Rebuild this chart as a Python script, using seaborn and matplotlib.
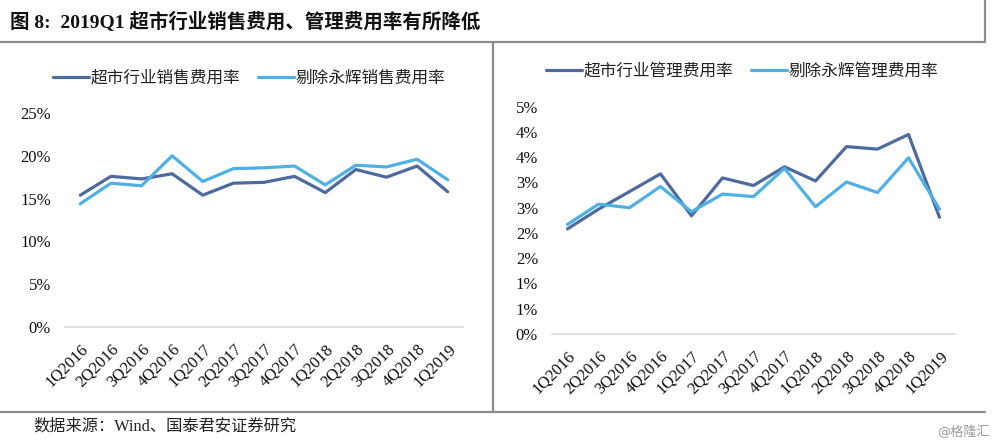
import pandas as pd
import matplotlib
matplotlib.use('Agg')
import matplotlib.pyplot as plt
import seaborn as sns
from matplotlib.lines import Line2D

sns.set_style('white')
plt.rcParams['font.family'] = ['Liberation Serif', 'Noto Sans CJK SC', 'DejaVu Sans']

quarters = ['1Q2016', '2Q2016', '3Q2016', '4Q2016', '1Q2017', '2Q2017', '3Q2017',
            '4Q2017', '1Q2018', '2Q2018', '3Q2018', '4Q2018', '1Q2019']

# Left panel: selling expense ratio (%)
sell_industry = [15.4, 17.6, 17.3, 17.9, 15.4, 16.8, 16.9, 17.6, 15.7, 18.4, 17.5, 18.8, 15.8]
sell_ex_yh = [14.4, 16.8, 16.5, 20.0, 17.0, 18.5, 18.6, 18.8, 16.6, 18.9, 18.7, 19.6, 17.2]

# Right panel: admin expense ratio (%)
admin_industry = [2.08, 2.47, 2.82, 3.17, 2.34, 3.09, 2.94, 3.31, 3.03, 3.71, 3.66, 3.95, 2.31]
admin_ex_yh = [2.17, 2.57, 2.50, 2.92, 2.42, 2.77, 2.72, 3.28, 2.52, 3.01, 2.80, 3.49, 2.47]

left_names = ['超市行业销售费用率', '剔除永辉销售费用率']
right_names = ['超市行业管理费用率', '剔除永辉管理费用率']

left_ticks = [0, 5, 10, 15, 20, 25]
left_ticklabels = ['0%', '5%', '10%', '15%', '20%', '25%']
right_ticks = [0, 0.5, 1.0, 1.5, 2.0, 2.5, 3.0, 3.5, 4.0, 4.5]
right_ticklabels = ['0%', '1%', '1%', '2%', '2%', '3%', '3%', '4%', '4%', '5%']

colors = ['#4d6b9e', '#4fb0e6']
frame_col = '#8c8c8c'
cjk = ['Noto Sans CJK SC']

fig = plt.figure(figsize=(10, 4.44), dpi=100)


def px_axes(x0, x1, ytop, ybot):
    return fig.add_axes([x0 / 1000, (444 - ybot) / 444, (x1 - x0) / 1000, (ybot - ytop) / 444])


def draw_panel(ax, a, b, names, ticks, ticklabels, ymax):
    df = pd.DataFrame({'quarter': quarters * 2, 'value': a + b,
                       'series': [names[0]] * len(a) + [names[1]] * len(b)})
    sns.lineplot(data=df, x='quarter', y='value', hue='series', palette=colors,
                 linewidth=2.3, ax=ax, legend=False, sort=False)
    for ln in ax.lines:
        ln.set_solid_joinstyle('round')
        ln.set_solid_capstyle('round')
    ax.set_xlim(-0.5, len(quarters) - 0.5)
    ax.set_ylim(0, ymax)
    ax.set_yticks(ticks)
    ax.set_yticklabels(ticklabels)
    ax.set_xticks(range(len(quarters)))
    ax.set_xticklabels(quarters, rotation=45, ha='right', rotation_mode='anchor')
    ax.tick_params(axis='both', length=0, labelsize=12, colors='#111111')
    ax.tick_params(axis='x', pad=10)
    ax.tick_params(axis='y', pad=10)
    for s in ['top', 'right', 'left']:
        ax.spines[s].set_visible(False)
    ax.spines['bottom'].set_color('#d9d9d9')
    ax.spines['bottom'].set_linewidth(1.2)
    ax.set_xlabel('')
    ax.set_ylabel('')
    ax.set_facecolor('none')


ax1 = px_axes(65, 463, 113, 327)
draw_panel(ax1, sell_industry, sell_ex_yh, left_names, left_ticks, left_ticklabels, 25)

ax2 = px_axes(552, 955, 106.7, 334)
draw_panel(ax2, admin_industry, admin_ex_yh, right_names, right_ticks, right_ticklabels, 4.5)

# legends above each panel
for ax, names, cx, cy in [(ax1, left_names, 249, 78), (ax2, right_names, 742, 71)]:
    handles = [Line2D([0], [0], color=colors[i], lw=2.3, label=names[i]) for i in range(2)]
    fig.legend(handles=handles, loc='center', bbox_to_anchor=(cx / 1000, (444 - cy) / 444),
               ncol=2, frameon=False, prop={'family': cjk, 'size': 12},
               handlelength=2.15, handletextpad=0.12, columnspacing=1.05, labelcolor='#222222')

# title and frame
fig.text(0.010, (444 - 22) / 444, '图 8:  2019Q1 超市行业销售费用、管理费用率有所降低',
         fontsize=14, fontweight='bold', va='center', ha='left', color='#111111')
fig.add_artist(Line2D([0, 0.985], [(444 - 42) / 444] * 2, color=frame_col, lw=1.6))
fig.add_artist(Line2D([0.985, 0.985], [(444 - 42) / 444, 1.0], color=frame_col, lw=1.6))
fig.add_artist(Line2D([0.493, 0.493], [(444 - 412) / 444, (444 - 42) / 444], color=frame_col, lw=1.6))
fig.add_artist(Line2D([0, 0.985], [(444 - 412) / 444] * 2, color=frame_col, lw=1.6))

fig.text(0.033, (444 - 426) / 444, '数据来源：Wind、国泰君安证券研究', fontsize=11.7,
         va='center', ha='left', color='#222222')
fig.text(0.990, (444 - 432) / 444, '@格隆汇', fontsize=9.5, va='center', ha='right',
         color='#9a9a9a', family=['DejaVu Sans', 'Noto Sans CJK SC'])

fig.savefig('out.png', dpi=100)
